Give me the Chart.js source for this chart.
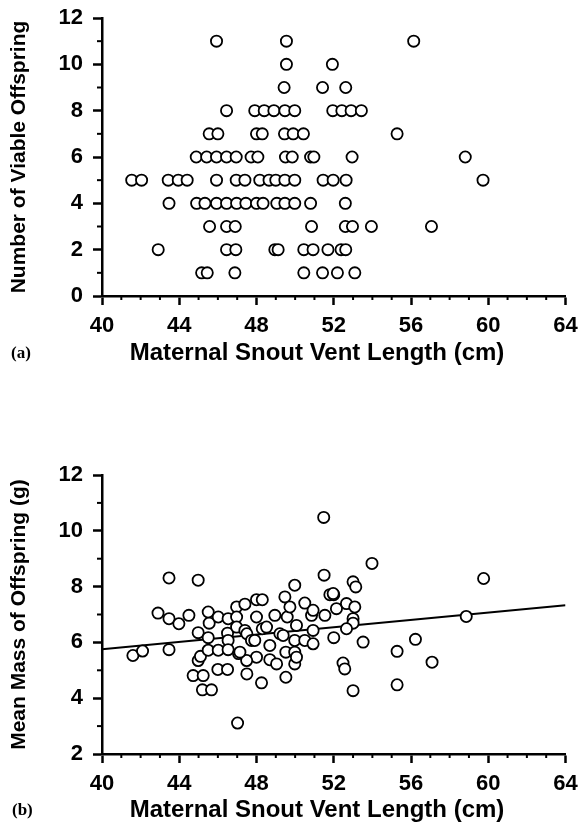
<!DOCTYPE html>
<html>
<head>
<meta charset="utf-8">
<script src="https://cdn.jsdelivr.net/npm/chart.js@4/dist/chart.umd.min.js"></script>
<style>
  html, body { margin: 0; padding: 0; background: #fff; }
  body { width: 579px; height: 839px; position: relative; overflow: hidden; }
  .panel { position: absolute; left: 0; width: 579px; }
  #wrap-a { top: 0; height: 381px; }
  #wrap-b { top: 440px; height: 399px; }
  .tag { position: absolute; font: bold 17px/20px "Liberation Serif", "DejaVu Serif", serif; color: #000; }
  .xtitle { position: absolute; left: 67px; width: 500px; text-align: center;
            font: bold 24px/28px "Liberation Sans", Arial, sans-serif; color: #000; }
</style>
</head>
<body>
<div class="panel" id="wrap-a"><canvas id="chart-a"></canvas></div>
<div class="panel" id="wrap-b"><canvas id="chart-b"></canvas></div>
<div class="tag" style="left:11px; top:343px;">(a)</div>
<div class="tag" style="left:12px; top:800px;">(b)</div>
<div class="xtitle" style="top:338px;">Maternal Snout Vent Length (cm)</div>
<div class="xtitle" style="top:795px;">Maternal Snout Vent Length (cm)</div>
<script>
// tick labels
const xTicks = [40, 44, 48, 52, 56, 60, 64];
const yTicksA = [0, 2, 4, 6, 8, 10, 12];
const yTicksB = [2, 4, 6, 8, 10, 12];

// panel (a): snout vent length of each female, grouped by number of viable offspring
const offspringCounts = [11, 10, 9, 8, 7, 6, 5, 4, 3, 2, 1];
const snvlByCount = [
    [45.93, 49.55, 56.14],
    [49.55, 51.93],
    [49.43, 51.42, 52.62],
    [46.45, 47.91, 48.4, 48.9, 49.47, 49.98, 51.95, 52.42, 52.9, 53.43],
    [45.55, 46.0, 48.0, 48.3, 49.45, 49.9, 50.43, 55.28],
    [44.88, 45.42, 45.93, 46.45, 46.95, 47.72, 48.07, 49.5, 49.85, 50.8, 50.97, 52.95, 58.81],
    [41.54, 42.05, 43.43, 43.95, 44.41, 45.93, 46.95, 47.4, 48.17, 48.65, 49.0, 49.47, 49.98, 51.45, 51.97, 52.64, 59.73],
    [43.47, 44.9, 45.33, 45.93, 46.45, 46.97, 47.45, 48.0, 48.34, 49.05, 49.47, 49.98, 50.8, 52.6],
    [45.57, 46.45, 46.9, 50.85, 52.6, 52.97, 53.95, 57.06],
    [42.91, 46.45, 46.93, 48.95, 49.12, 50.45, 50.93, 51.7, 52.38, 52.62],
    [45.16, 45.45, 46.88, 50.45, 51.42, 52.19, 53.09]
];

// panel (b): [snout vent length, mean offspring mass]
const massPoints = [
    [41.6, 5.53], [42.1, 5.69], [42.9, 7.05], [43.47, 8.31], [43.47, 6.85], [43.47, 5.74],
    [43.98, 6.67], [44.5, 6.97], [44.98, 8.23], [44.98, 6.35], [44.98, 5.35], [45.1, 5.5],
    [44.72, 4.81], [45.24, 4.81], [45.2, 4.3], [45.67, 4.3], [45.5, 7.09], [45.55, 6.69],
    [45.5, 6.17], [45.5, 5.72], [46.02, 6.91], [46.02, 5.72], [46.0, 5.03], [46.5, 5.03],
    [46.53, 6.85], [46.5, 6.33], [46.53, 6.07], [46.53, 5.74], [46.97, 7.27], [46.97, 6.91],
    [46.97, 6.55], [47.07, 5.6], [47.4, 7.37], [47.4, 6.43], [47.5, 6.31], [47.5, 4.87],
    [47.02, 3.11], [47.74, 6.07], [48.0, 7.53], [48.3, 7.53], [48.0, 6.91], [48.3, 6.49],
    [48.0, 5.47], [47.49, 5.35], [48.26, 4.55], [47.14, 5.65], [47.91, 6.07], [48.52, 6.55],
    [48.69, 5.89], [48.69, 5.38], [48.95, 6.97], [49.04, 5.23], [49.21, 6.31], [49.38, 6.25],
    [49.47, 7.63], [49.52, 5.65], [49.52, 4.75], [49.59, 6.91], [49.73, 7.27], [49.98, 8.05],
    [49.98, 6.07], [49.98, 5.65], [49.98, 5.23], [50.07, 6.61], [50.07, 5.47], [50.5, 7.41],
    [50.5, 6.07], [50.85, 6.97], [50.93, 7.15], [50.93, 6.43], [50.93, 5.95], [51.48, 10.48],
    [51.5, 8.41], [51.54, 6.97], [51.8, 7.71], [52.0, 7.71], [52.0, 6.17], [52.14, 7.21],
    [51.97, 7.75], [52.66, 7.39], [53.09, 7.27], [53.0, 6.85], [53.0, 6.69], [52.66, 6.49],
    [53.0, 8.17], [53.14, 7.99], [52.48, 5.26], [52.57, 5.05], [53.0, 4.27], [53.52, 6.01],
    [53.98, 8.83], [55.28, 5.68], [55.28, 4.48], [56.23, 6.11], [57.09, 5.29], [58.86, 6.93],
    [59.76, 8.29]
];

// regression line ends (b)
const fitX = [40, 64];
const fitY = [5.75, 7.33];

const FONT = '"Liberation Sans", Arial, sans-serif';

// short minor ticks between the labelled ones
const minorTicks = {
    id: 'minorTicks',
    afterDraw(chart) {
        const { ctx, scales: { x, y } } = chart;
        ctx.save();
        ctx.strokeStyle = '#000';
        ctx.lineWidth = 2;
        for (let v = x.min; v <= x.max; v++) {
            if (xTicks.includes(v)) continue;
            const px = x.getPixelForValue(v);
            ctx.beginPath();
            ctx.moveTo(px, x.top);
            ctx.lineTo(px, x.top + 4);
            ctx.stroke();
        }
        for (let v = y.min + 1; v < y.max; v += 2) {
            const py = y.getPixelForValue(v);
            ctx.beginPath();
            ctx.moveTo(y.right, py);
            ctx.lineTo(y.right - 5, py);
            ctx.stroke();
        }
        ctx.restore();
    }
};

function axes(yMin, yMax, yTitle, yTicks) {
    const tickFont = { family: FONT, size: 22, weight: 'bold' };
    const titleFont = { family: FONT, size: 21, weight: 'bold' };
    return {
        x: {
            type: 'linear',
            min: xTicks[0],
            max: xTicks[xTicks.length - 1],
            afterBuildTicks: s => { s.ticks = xTicks.map(v => ({ value: v })); },
            afterFit: s => { s.height = 85; s.paddingLeft = 0; s.paddingRight = 0; },
            grid: { drawOnChartArea: false, tickLength: 9, tickWidth: 2.5, tickColor: '#000' },
            border: { color: '#000', width: 2.5 },
            ticks: { color: '#000', font: tickFont, padding: 8, maxRotation: 0 },
            title: { display: false }
        },
        y: {
            type: 'linear',
            min: yMin,
            max: yMax,
            afterBuildTicks: s => { s.ticks = yTicks.map(v => ({ value: v })); },
            afterFit: s => { s.width = 102; s.paddingTop = 0; s.paddingBottom = 0; },
            grid: { drawOnChartArea: false, tickLength: 9, tickWidth: 2.5, tickColor: '#000' },
            border: { color: '#000', width: 2.5 },
            ticks: { color: '#000', font: tickFont, padding: 10 },
            title: { display: true, text: yTitle, color: '#000', font: titleFont, padding: { top: 7 } }
        }
    };
}

const pointStyle = {
    pointRadius: 5.6,
    pointBorderWidth: 1.8,
    pointBorderColor: '#000',
    pointBackgroundColor: '#fff',
    showLine: false
};

const common = {
    responsive: true,
    maintainAspectRatio: false,
    animation: false,
    devicePixelRatio: 1,
    plugins: { legend: { display: false }, tooltip: { enabled: false } }
};

const pointsA = [];
offspringCounts.forEach((n, i) => {
    snvlByCount[i].forEach(len => pointsA.push({ x: len, y: n }));
});

new Chart(document.getElementById('chart-a'), {
    type: 'scatter',
    data: {
        datasets: [Object.assign({ data: pointsA }, pointStyle)]
    },
    options: Object.assign({}, common, {
        layout: { padding: { top: 18, right: 13.5, bottom: 0, left: 0 } },
        scales: axes(0, 12, 'Number of Viable Offspring', yTicksA)
    }),
    plugins: [minorTicks]
});

new Chart(document.getElementById('chart-b'), {
    type: 'scatter',
    data: {
        datasets: [
            Object.assign({ data: massPoints.map(p => ({ x: p[0], y: p[1] })), order: 1 }, pointStyle),
            {
                data: fitX.map((v, i) => ({ x: v, y: fitY[i] })),
                showLine: true,
                borderColor: '#000',
                borderWidth: 2,
                pointRadius: 0,
                order: 2
            }
        ]
    },
    options: Object.assign({}, common, {
        layout: { padding: { top: 35, right: 13.5, bottom: 0, left: 0 } },
        scales: axes(2, 12, 'Mean Mass of Offspring (g)', yTicksB)
    }),
    plugins: [minorTicks]
});
</script>
</body>
</html>
